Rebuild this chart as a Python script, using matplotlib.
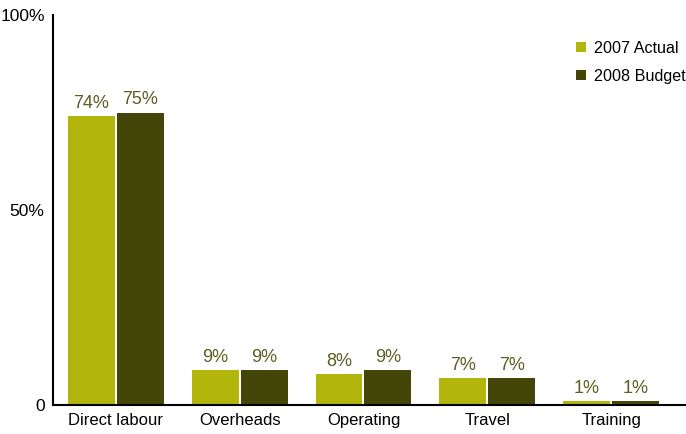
import matplotlib.pyplot as plt
import numpy as np

plt.rcParams['font.family'] = ['Liberation Sans', 'DejaVu Sans']

categories = ['Direct labour', 'Overheads', 'Operating', 'Travel', 'Training']
actual_2007 = [74, 9, 8, 7, 1]
budget_2008 = [75, 9, 9, 7, 1]
series_names = ['2007 Actual', '2008 Budget']

color_actual = '#b2b60c'
color_budget = '#434607'
label_color = '#5c5e22'

fig = plt.figure(figsize=(6.86, 4.34), dpi=100)
ax = fig.add_axes([53 / 686, 29 / 434, 633 / 686, 390 / 434])

x = np.arange(len(categories))
width = 0.379
offset = 0.1976

bars_a = ax.bar(x - offset, actual_2007, width, color=color_actual, label=series_names[0])
bars_b = ax.bar(x + offset, budget_2008, width, color=color_budget, label=series_names[1])

for bars in (bars_a, bars_b):
    ax.bar_label(bars, labels=[f'{v}%' for v in bars.datavalues], padding=3,
                 fontsize=13, color=label_color)

ax.set_xlim(-0.508, 4.605)
ax.set_ylim(0, 100)
ax.set_xticks(x)
ax.set_xticklabels(categories, fontsize=12)
ax.set_yticks([0, 50, 100])
ax.set_yticklabels(['0', '50%', '100%'], fontsize=12.5)
ax.tick_params(axis='both', length=0, pad=6)
ax.tick_params(axis='x', pad=6)

for side in ('top', 'right'):
    ax.spines[side].set_visible(False)
ax.spines['left'].set_linewidth(1.5)
ax.spines['bottom'].set_linewidth(1.5)

ax.legend(loc='upper right', bbox_to_anchor=(1.009, 0.95), frameon=False,
          fontsize=11.6, handlelength=0.6, handleheight=0.6, handletextpad=0.5,
          labelspacing=0.8, borderaxespad=0.0)

fig.savefig('out.png', dpi=100)
